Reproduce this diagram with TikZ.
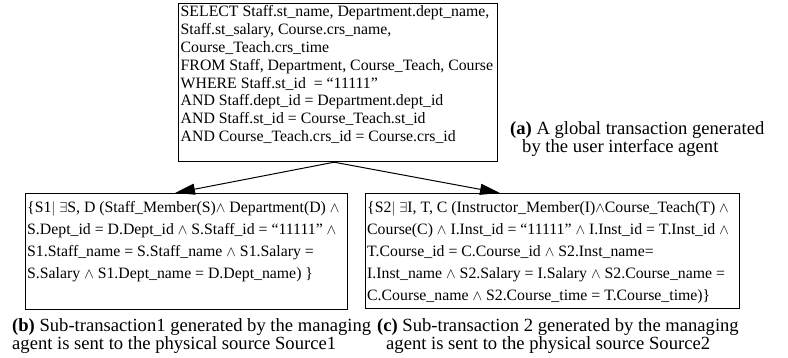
\documentclass[tikz,border=0pt]{standalone}
\usepackage{fontspec}
\setmainfont{Liberation Serif}
\usetikzlibrary{arrows.meta}

\tikzset{
  frame/.style={draw, rectangle, inner sep=0pt, anchor=north west},
  boxtext/.style={anchor=north west, align=left, inner sep=0pt},
  querytext/.style={boxtext, font=\fontsize{15.8}{17.8}\selectfont},
  subtext/.style={boxtext, font=\fontsize{15.8}{22.2}\selectfont},
  caption/.style={anchor=base west, align=left, inner sep=0pt,
    font=\fontsize{18.6}{18.6}\selectfont},
  link/.style={draw, line width=1pt,
    -{Triangle[length=20pt,width=11pt]}}
}

\newcommand{\ex}{$\exists$}
\newcommand{\aand}{$\wedge$}

\begin{document}
\begin{tikzpicture}[x=1pt, y=-1pt]
\useasboundingbox (0,0) rectangle (788,358);

% global transaction box
\node[frame, line width=1.2pt, minimum width=319pt, minimum height=158pt]
  (query) at (178,3) {};
\node[querytext] (querybody) at (180.5,5.5) {%
SELECT Staff.st\_name, Department.dept\_name,\\
Staff.st\_salary, Course.crs\_name,\\
Course\_Teach.crs\_time\\
FROM Staff, Department, Course\_Teach, Course\\
WHERE Staff.st\_id\ \ = ``11111''\\
AND Staff.dept\_id = Department.dept\_id\\
AND Staff.st\_id = Course\_Teach.st\_id\\
AND Course\_Teach.crs\_id = Course.crs\_id};

% sub-transaction boxes
\node[frame, line width=0.9pt, minimum width=322pt, minimum height=116pt]
  (sub1) at (25,193) {};
\node[subtext] (sub1body) at (27,201) {%
\{S1$|$ \ex S, D (Staff\_Member(S)\aand{} Department(D) \aand\\
S.Dept\_id = D.Dept\_id \aand{} S.Staff\_id = ``11111'' \aand\\
S1.Staff\_name = S.Staff\_name \aand{} S1.Salary =\\
S.Salary \aand{} S1.Dept\_name = D.Dept\_name) \}};

\node[frame, line width=0.9pt, minimum width=374pt, minimum height=115pt]
  (sub2) at (365,193) {};
\node[subtext] (sub2body) at (367,201) {%
\{S2$|$ \ex I, T, C (Instructor\_Member(I)\aand Course\_Teach(T) \aand\\
Course(C) \aand{} I.Inst\_id = ``11111'' \aand{} I.Inst\_id = T.Inst\_id \aand\\
T.Course\_id = C.Course\_id \aand{} S2.Inst\_name=\\
I.Inst\_name \aand{} S2.Salary = I.Salary \aand{} S2.Course\_name =\\
C.Course\_name \aand{} S2.Course\_time = T.Course\_time)\}};

% decomposition arrows
\coordinate (fork) at ([xshift=-4pt]query.south);
\draw[link] (fork) -- ([xshift=150pt]sub1.north west);
\draw[link] (fork) -- ([xshift=135pt]sub2.north west);

% captions (anchored on the baseline of their last line)
\node[caption] (capa) at (510,153) {\textbf{(a)} A global transaction generated\\
\hspace*{12pt}by the user interface agent};
\node[caption] (capb) at (12,350) {\textbf{(b)} Sub-transaction1 generated by the managing\\
agent is sent to the physical source Source1};
\node[caption] (capc) at (377,350) {\textbf{(c)} Sub-transaction 2 generated by the managing\\
\hspace*{9pt}agent is sent to the physical source Source2};
\end{tikzpicture}
\end{document}
